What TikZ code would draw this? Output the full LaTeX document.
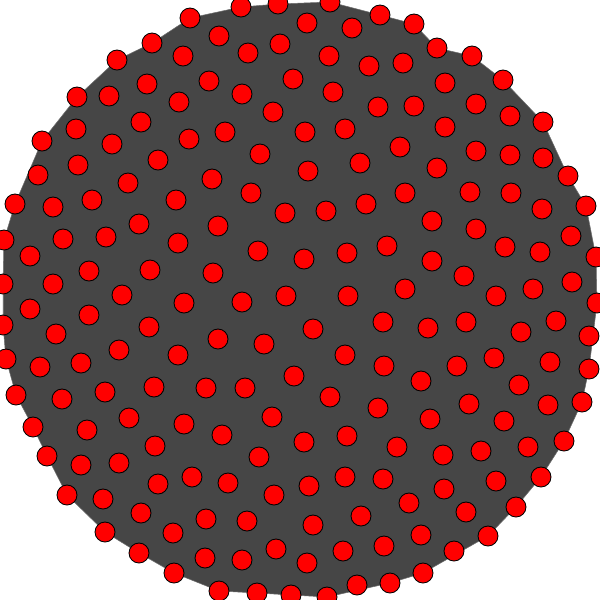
\documentclass[tikz,border=0pt]{standalone}
\usepackage{xcolor}
\usepackage{tikz}
\usetikzlibrary{backgrounds}
\definecolor{edgegray}{RGB}{70,70,70}
\definecolor{rimgray}{RGB}{110,110,110}

\begin{document}
\begin{tikzpicture}[x=0.02cm,y=-0.02cm,
          vert/.style={draw=black,circle,fill=red,line width=0.5pt,minimum size=0.4cm,inner sep=0pt},
          rim/.style={draw=rimgray,line width=0.3pt},
          mesh/.style={fill=edgegray}]
        \useasboundingbox (0,0) rectangle (600,600);
        \foreach \x/\y [count=\i] in {190/18,241/7,278/4,330/2,380/15,414/24,152/43,219/36,307/23,352/28,
            437/48,183/56,117/60,248/53,280/44,329/56,369/66,403/63,472/56,503/80,
            147/84,209/81,293/79,242/94,333/92,445/83,77/97,109/96,179/102,273/112,
            378/107,414/106,476/104,510/116,543/122,141/122,76/129,42/141,112/144,189/139,
            225/132,305/132,345/129,445/127,400/147,476/151,510/155,543/158,158/160,78/165,
            260/154,360/163,437/168,38/175,128/183,212/179,308/171,568/176,470/192,511/193,
            405/193,366/204,251/193,15/204,53/207,92/200,176/200,586/206,542/209,285/213,
            326/211,432/221,476/229,4/240,63/239,106/237,139/224,218/226,30/256,178/243,
            258/251,304/259,347/253,387/246,432/261,505/247,571/236,540/252,596/257,89/271,
            150/270,213/273,464/276,3/284,53/284,122/295,184/303,242/302,286/296,348/296,
            405/289,496/296,533/289,572/282,597/303,30/309,89/315,3/325,149/327,56/334,
            218/339,264/344,313/329,383/322,428/328,466/322,521/332,556/321,589/336,119/350,
            178/355,345/355,384/366,457/366,494/358,550/362,589/369,6/359,40/367,81/363,
            294/376,16/395,62/399,105/392,154/387,206/388,245/388,330/397,378/408,421/381,
            519/385,469/404,548/405,582/402,129/418,184/424,33/427,87/430,272/417,222/435,
            304/442,347/436,397/447,430/419,504/421,443/455,481/451,528/447,564/441,155/446,
            47/456,81/465,119/463,259/457,158/484,192/477,228/483,274/495,309/486,345/477,
            383/479,444/489,496/481,541/477,67/495,103/499,141/513,206/519,247/521,313/525,
            361/516,409/503,466/512,516/507,105/532,173/533,139/553,205/558,242/560,276/549,
            307/563,343/551,384/546,421/535,488/536,454/551,174/573,219/591,257/593,291/595,
            327/597,357/585,390/583,423/573}
          \node[vert] (v\i) at (\x,\y) {};
        \begin{scope}[on background layer]
          \fill[mesh] (v4.center) \foreach \h in {5,6,11,19,20,35,58,68,89,105,127,144,159,174,184,195,204,203,
              201,200,199,198,197,187,185,175,161,147,132,128,108,94,74,64,38,27,13,7,1,2,3} {-- (v\h.center)} -- cycle;
          \foreach \b [remember=\b as \a (initially 3)] in {4,5,6,11,19,20,35,58,68,89,105,127,144,159,174,184,195,204,203,
              201,200,199,198,197,187,185,175,161,147,132,128,108,94,74,64,38,27,13,7,1,2,3}
            \draw[rim] (v\a.center) -- (v\b.center);
        \end{scope}
      \end{tikzpicture}
\end{document}
